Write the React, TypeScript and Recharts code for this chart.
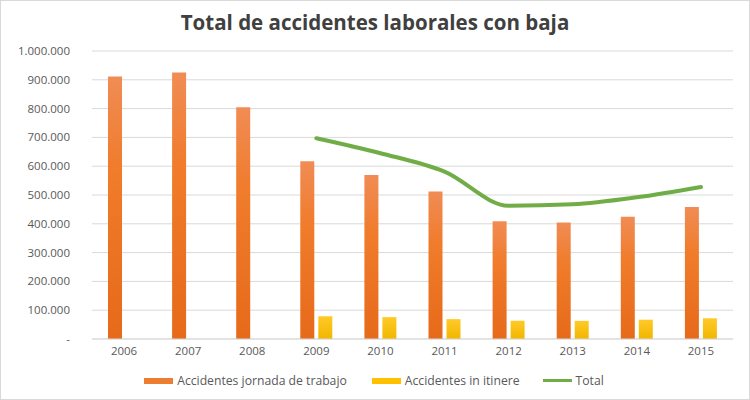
import React from 'react'
import { ComposedChart, Bar, Line, XAxis, YAxis, CartesianGrid, Legend } from 'recharts'

const years = ['2006', '2007', '2008', '2009', '2010', '2011', '2012', '2013', '2014', '2015']
const jornada = [911561, 924981, 804959, 617440, 569523, 512584, 408537, 404284, 424625, 458023]
const itinere = [null, null, null, 79000, 76000, 69000, 63000, 63000, 67000, 72000]
const total = [null, null, null, 697000, 645000, 581000, 463000, 468000, 492000, 528000]
const yTicks = [0, 100000, 200000, 300000, 400000, 500000, 600000, 700000, 800000, 900000, 1000000]

const data = years.map((y, i) => ({
  year: y,
  jornada: jornada[i],
  itinere: itinere[i],
  total: total[i],
}))

const fmt = (v: number) => (v === 0 ? '-' : String(v).replace(/\B(?=(\d{3})+(?!\d))/g, '.'))

const font = '"Open Sans", "DejaVu Sans", sans-serif'

function LegendBox() {
  const item = (color: string, label: string, h: number, gap: number) => (
    <span style={{ display: 'inline-flex', alignItems: 'center', marginRight: gap }}>
      <span style={{ display: 'inline-block', width: 29, height: h, background: color, marginRight: 4 }} />
      <span>{label}</span>
    </span>
  )
  return (
    <div
      style={{
        fontFamily: font,
        fontSize: 12.2,
        color: '#595959',
        display: 'flex',
        justifyContent: 'center',
        paddingTop: 15,
        paddingLeft: 14,
      }}
    >
      {item('#ed7d31', 'Accidentes jornada de trabajo', 6, 25)}
      {item('#ffc000', 'Accidentes in itinere', 6, 23)}
      {item('#70ad47', 'Total', 3, 0)}
    </div>
  )
}

export default function App() {
  return (
    <div
      style={{
        position: 'absolute',
        left: 0,
        top: 0,
        width: 750,
        height: 400,
        background: '#fff',
        boxSizing: 'border-box',
        border: '1px solid #d9d9d9',
        fontFamily: font,
      }}
    >
      <div
        style={{
          position: 'absolute',
          top: 7,
          width: '100%',
          textAlign: 'center',
          fontSize: 20.5,
          fontWeight: 'bold',
          color: '#404040',
          fontFamily: '"Open Sans", sans-serif',
        }}
      >
        Total de accidentes laborales con baja
      </div>
      <ComposedChart
        width={748}
        height={398}
        data={data}
        margin={{ top: 50, right: 16, bottom: 0, left: 0 }}
        barGap={4}
        barSize={14}
      >
        <defs>
          <linearGradient id="gOrange" x1="0" y1="0" x2="0" y2="1">
            <stop offset="0%" stopColor="#f08c55" />
            <stop offset="35%" stopColor="#f07c2c" />
            <stop offset="100%" stopColor="#e66a1a" />
          </linearGradient>
          <linearGradient id="gYellow" x1="0" y1="0" x2="0" y2="1">
            <stop offset="0%" stopColor="#ffca28" />
            <stop offset="100%" stopColor="#f2b600" />
          </linearGradient>
        </defs>
        <CartesianGrid vertical={false} stroke="#d9d9d9" />
        <XAxis
          dataKey="year"
          tick={{ fontSize: 11.5, fill: '#595959', fontFamily: font }}
          tickLine={false}
          axisLine={{ stroke: '#d9d9d9' }}
          height={22}
        />
        <YAxis
          domain={[0, 1000000]}
          ticks={yTicks}
          tickFormatter={fmt}
          tick={{ fontSize: 11.5, fill: '#595959', fontFamily: font }}
          tickLine={false}
          axisLine={false}
          tickSize={0}
          tickMargin={22}
          width={91}
          interval={0}
        />
        <Legend content={<LegendBox />} verticalAlign="bottom" height={38} wrapperStyle={{ bottom: 4 }} />
        <Bar dataKey="jornada" fill="url(#gOrange)" isAnimationActive={false} />
        <Bar dataKey="itinere" fill="url(#gYellow)" isAnimationActive={false} />
        <Line
          dataKey="total"
          type="monotone"
          stroke="#70ad47"
          strokeWidth={4}
          dot={false}
          strokeLinecap="round"
          isAnimationActive={false}
        />
      </ComposedChart>
    </div>
  )
}
